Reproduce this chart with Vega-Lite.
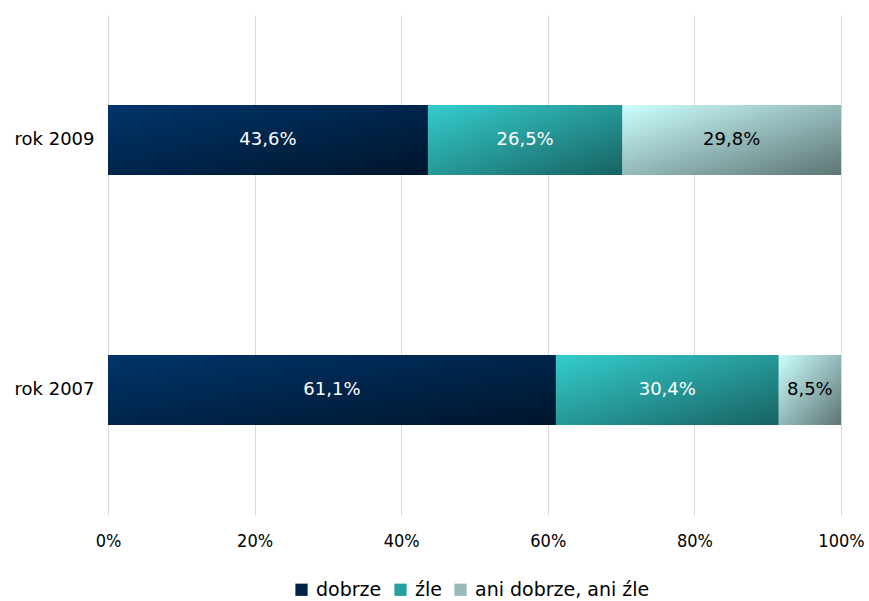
{
  "$schema": "https://vega.github.io/schema/vega-lite/v6.json",
  "autosize": {"type": "none"},
  "padding": {"left": 108, "top": 15, "right": 28, "bottom": 86},
  "width": 733,
  "height": 500,
  "background": "white",
  "config": {
    "view": {"stroke": null},
    "font": "DejaVu Sans"
  },
  "data": {
    "values": [
      {"rok": "rok 2009", "ocena": "dobrze", "kolejnosc": 1, "wartosc": 43.6, "etykieta": "43,6%"},
      {"rok": "rok 2009", "ocena": "źle", "kolejnosc": 2, "wartosc": 26.5, "etykieta": "26,5%"},
      {"rok": "rok 2009", "ocena": "ani dobrze, ani źle", "kolejnosc": 3, "wartosc": 29.8, "etykieta": "29,8%"},
      {"rok": "rok 2007", "ocena": "dobrze", "kolejnosc": 1, "wartosc": 61.1, "etykieta": "61,1%"},
      {"rok": "rok 2007", "ocena": "źle", "kolejnosc": 2, "wartosc": 30.4, "etykieta": "30,4%"},
      {"rok": "rok 2007", "ocena": "ani dobrze, ani źle", "kolejnosc": 3, "wartosc": 8.5, "etykieta": "8,5%"}
    ]
  },
  "encoding": {
    "y": {
      "field": "rok",
      "type": "nominal",
      "sort": ["rok 2009", "rok 2007"],
      "title": null,
      "scale": {"paddingInner": 0.72, "paddingOuter": 0.36},
      "axis": {"domain": false, "ticks": false, "labelFontSize": 18, "labelColor": "#000000", "labelPadding": 14, "labelFont": "DejaVu Sans"}
    },
    "x": {
      "field": "wartosc",
      "type": "quantitative",
      "stack": "normalize",
      "title": null,
      "scale": {"domain": [0, 1], "nice": false},
      "axis": {"format": ".0%", "values": [0, 0.2, 0.4, 0.6, 0.8, 1], "domain": false, "ticks": false, "grid": true, "gridColor": "#d9d9d9", "labelFontSize": 18, "labelFont": "DejaVu Sans Condensed", "labelColor": "#000000", "labelPadding": 17, "labelFlush": false}
    },
    "order": {"field": "kolejnosc", "type": "quantitative"},
    "detail": {"field": "ocena"}
  },
  "layer": [
    {
      "mark": {"type": "bar"},
      "encoding": {
        "color": {
          "field": "ocena",
          "type": "nominal",
          "sort": ["dobrze", "źle", "ani dobrze, ani źle"],
          "scale": {
            "domain": ["dobrze", "źle", "ani dobrze, ani źle"],
            "range": ["#002347", "#27a0a0", "#98baba"]
          },
          "legend": {
            "title": null,
            "orient": "none",
            "direction": "horizontal",
            "legendX": 184,
            "legendY": 565,
            "symbolType": "square",
            "symbolSize": 150,
            "symbolStrokeWidth": 0,
            "labelFontSize": 19,
            "labelColor": "#000000",
            "labelOffset": 5,
            "columnPadding": 9,
            "labelLimit": 400,
            "labelFont": "DejaVu Sans",
            "symbolOpacity": 1
          }
        }
      }
    },
    {
      "mark": {
        "type": "bar",
        "fill": {"expr": "datum.ocena === 'dobrze' ? {gradient: 'linear', x1: 0, y1: 0, x2: 1, y2: 1, stops: [{offset: 0, color: '#00356b'}, {offset: 1, color: '#00152b'}]} : datum.ocena === 'źle' ? {gradient: 'linear', x1: 0, y1: 0, x2: 1, y2: 1, stops: [{offset: 0, color: '#35cdcd'}, {offset: 1, color: '#186262'}]} : {gradient: 'linear', x1: 0, y1: 0, x2: 1, y2: 1, stops: [{offset: 0, color: '#ccffff'}, {offset: 1, color: '#5d7474'}]}"}
      }
    },
    {
      "mark": {"type": "text", "fontSize": 18, "font": "DejaVu Sans"},
      "encoding": {
        "x": {"field": "wartosc", "type": "quantitative", "stack": "normalize", "bandPosition": 0.5},
        "text": {"field": "etykieta"},
        "color": {"condition": {"test": "datum.ocena === 'ani dobrze, ani źle'", "value": "#000000"}, "value": "#ffffff"}
      }
    }
  ]
}
